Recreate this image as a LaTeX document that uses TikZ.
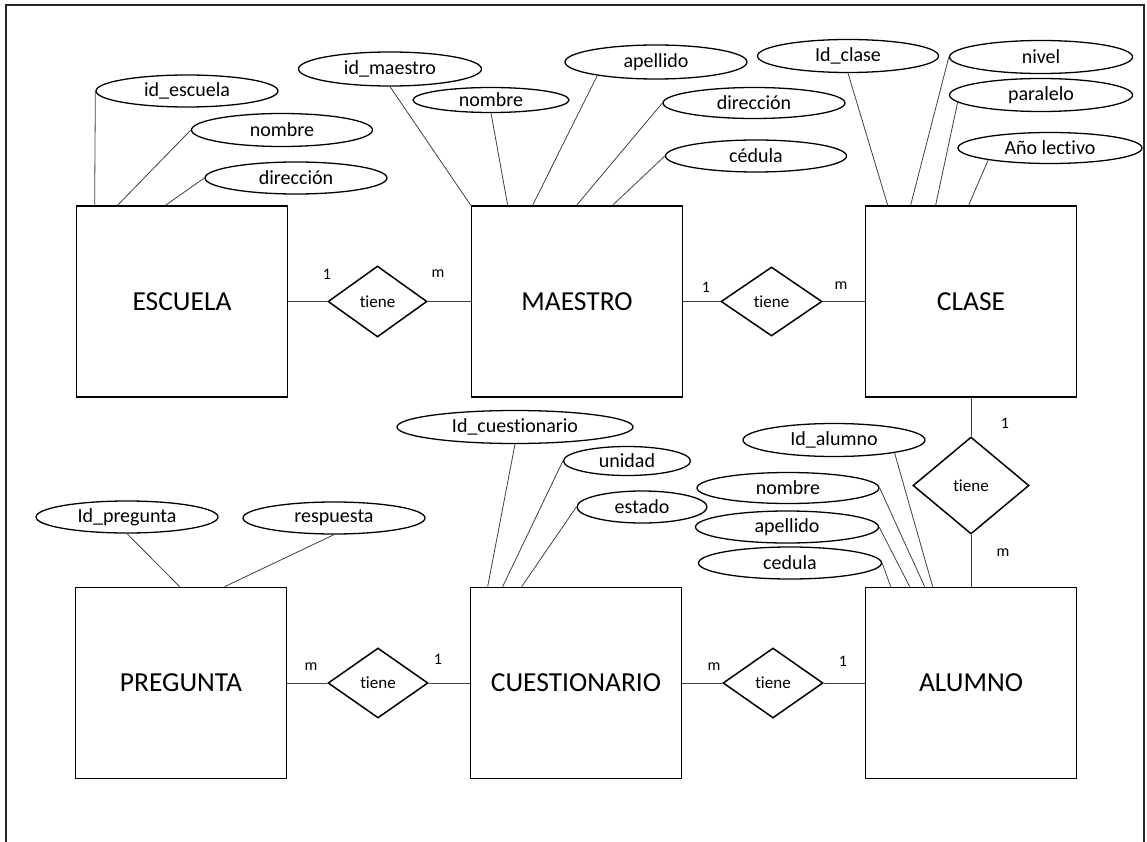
\documentclass[tikz,border=0pt]{standalone}
\usepackage{fontspec}
\setmainfont{Carlito}[Ligatures={NoCommon}]
\usetikzlibrary{shapes.geometric}
\begin{document}
\begin{tikzpicture}[x=1pt,y=-1pt,
  entity/.style={draw,line width=1.7pt,minimum width=211pt,minimum height=191pt,inner sep=0pt,font=\fontsize{27.5}{30}\selectfont},
  attr/.style={draw,ellipse,line width=1.3pt,inner sep=0pt,minimum height=32pt,minimum width=182pt,font=\fontsize{20}{22}\selectfont},
  rel/.style={draw,diamond,line width=1.5pt,inner sep=0pt,minimum width=100pt,minimum height=70pt,font=\fontsize{17}{19}\selectfont},
  card/.style={font=\fontsize{16}{18}\selectfont,inner sep=0pt},
  link/.style={draw=black!75,line width=0.8pt},
  frame/.style={draw=black!85,line width=1.3pt}
]
\useasboundingbox (0,0) rectangle (1147,842);
\coordinate (f1) at (6,842);
\coordinate (f2) at (6,5);
\coordinate (f3) at (1144,5);
\coordinate (f4) at (1144,842);
\draw[frame] (f1) -- (f2) -- (f3) -- (f4);

% entities
\node[entity] (esc) at (182,301.5) {ESCUELA};
\node[entity] (mae) at (577,301.5) {MAESTRO};
\node[entity] (cla) at (971,301.5) {CLASE};
\node[entity] (pre) at (181,683) {PREGUNTA};
\node[entity] (cue) at (576,683) {CUESTIONARIO};
\node[entity] (alu) at (971,683) {ALUMNO};

% relationships
\node[rel,minimum width=99pt,minimum height=71pt] (r1) at (377.5,301.5) {tiene};
\node[rel,minimum width=101pt,minimum height=69pt] (r2) at (771.5,301.5) {tiene};
\node[rel,minimum width=116pt,minimum height=97pt] (r3) at (971,485.5) {tiene};
\node[rel] (r4) at (378,683) {tiene};
\node[rel] (r5) at (773,683) {tiene};

\draw[link] (esc) -- (r1) -- (mae);
\draw[link] (mae) -- (r2) -- (cla);
\draw[link] (cla) -- (r3) -- (alu);
\draw[link] (pre) -- (r4) -- (cue);
\draw[link] (cue) -- (r5) -- (alu);

% cardinalities
\node[card] (c1) at (327,274) {1};
\node[card] (c2) at (438,274) {m};
\node[card] (c3) at (706,287) {1};
\node[card] (c4) at (841,286) {m};
\node[card] (c5) at (1005,423) {1};
\node[card] (c6) at (1003,553) {m};
\node[card] (c7) at (311,667) {m};
\node[card] (c8) at (438,659) {1};
\node[card] (c9) at (714,667) {m};
\node[card] (c10) at (843,661) {1};

% ESCUELA attributes
\node[attr] (e1) at (187,91) {id\_escuela};
\node[attr,minimum width=181pt,minimum height=33pt] (e2) at (282,130) {nombre};
\node[attr] (e3) at (296,178) {dirección};
\draw[link] (e1.west) -- ([xshift=19pt]esc.north west);
\draw[link] (e2.west) -- ([xshift=42pt]esc.north west);
\draw[link] (e3.west) -- ([xshift=90pt]esc.north west);

% MAESTRO attributes
\node[attr,minimum width=183pt,minimum height=34pt] (m1) at (390,69) {id\_maestro};
\node[attr,minimum width=156pt,minimum height=25pt] (m2) at (491,100) {nombre};
\node[attr,minimum width=182pt,minimum height=34pt] (m3) at (656,62) {apellido};
\node[attr,minimum height=31pt] (m4) at (754,103) {dirección};
\node[attr,minimum width=181pt] (m5) at (756,156) {cédula};
\draw[link] (m1.south) -- (mae.north west);
\draw[link] (m2.south) -- ([xshift=37pt]mae.north west);
\draw[link] (m3.193) -- ([xshift=62pt]mae.north west);
\draw[link] (m4.west) -- ([xshift=106pt]mae.north west);
\draw[link] (m5.west) -- ([xshift=142pt]mae.north west);

% CLASE attributes
\node[attr,minimum width=181pt,minimum height=33pt] (k1) at (848,56) {Id\_clase};
\node[attr,minimum width=183pt,minimum height=33pt] (k2) at (1041,57) {nivel};
\node[attr,minimum width=183pt,minimum height=33pt] (k3) at (1041,95) {paralelo};
\node[attr,minimum width=184pt,minimum height=31pt] (k4) at (1050,148) {Año lectivo};
\draw[link] (k1.south) -- ([xshift=23pt]cla.north west);
\draw[link] (k2.west) -- ([xshift=46pt]cla.north west);
\draw[link] (k3.185) -- ([xshift=71pt]cla.north west);
\draw[link] (k4.191) -- ([xshift=104pt]cla.north west);

% PREGUNTA attributes
\node[attr] (p1) at (127,517) {Id\_pregunta};
\node[attr] (p2) at (334,518) {respuesta};
\draw[link] (p1.south) -- ([xshift=105pt]pre.north west);
\draw[link] (p2.south) -- ([xshift=150pt]pre.north west);

% CUESTIONARIO attributes
\node[attr,minimum width=236pt,minimum height=33pt] (q1) at (515,427) {Id\_cuestionario};
\node[attr,minimum width=127pt,minimum height=29pt] (q2) at (627,461) {unidad};
\node[attr,minimum width=130pt] (q3) at (642,507) {estado};
\draw[link] (q1.south) -- ([xshift=18pt]cue.north west);
\draw[link] (q2.west) -- ([xshift=33pt]cue.north west);
\draw[link] (q3.west) -- ([xshift=52pt]cue.north west);

% ALUMNO attributes
\node[attr,minimum height=33pt] (s1) at (834,440) {Id\_alumno};
\node[attr,minimum height=31pt] (s2) at (788,488) {nombre};
\node[attr,minimum width=183pt] (s3) at (787,527) {apellido};
\node[attr,minimum width=183pt] (s4) at (790,563) {cedula};
\draw[link] (s1.348) -- ([xshift=68pt]alu.north west);
\draw[link] (s2.east) -- ([xshift=60pt]alu.north west);
\draw[link] (s3.east) -- ([xshift=45pt]alu.north west);
\draw[link] (s4.east) -- ([xshift=26pt]alu.north west);
\end{tikzpicture}
\end{document}
